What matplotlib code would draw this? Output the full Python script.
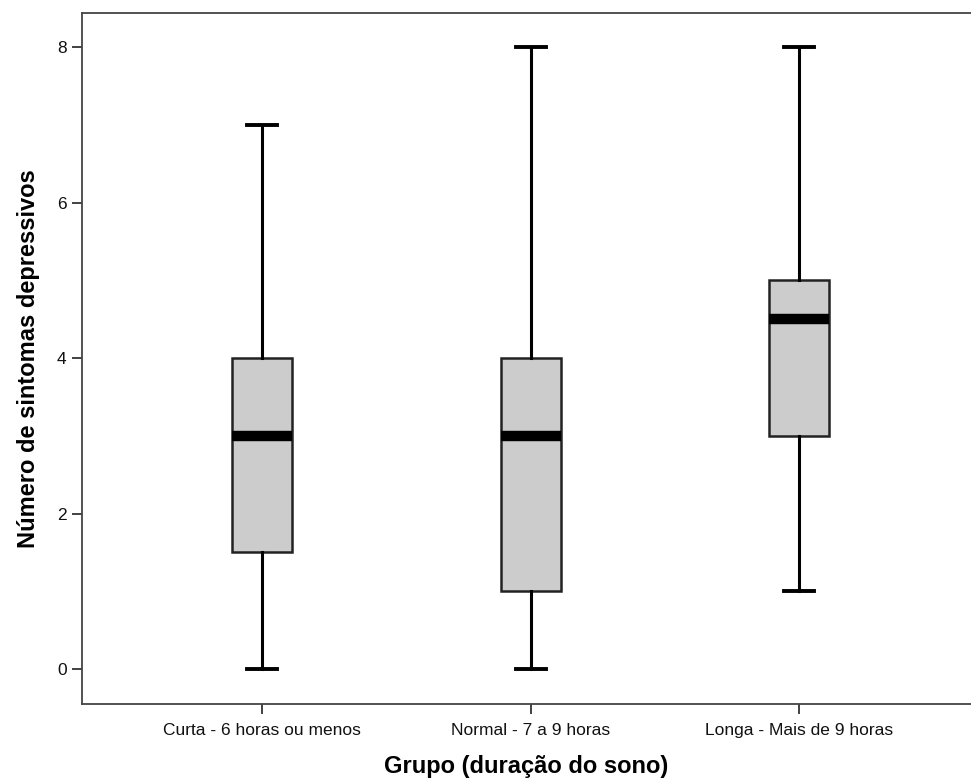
import matplotlib
matplotlib.use("Agg")
import matplotlib.pyplot as plt

categories = ["Curta - 6 horas ou menos", "Normal - 7 a 9 horas", "Longa - Mais de 9 horas"]
whisker_low = [0, 0, 1]
q1 = [1.5, 1, 3]
median = [3, 3, 4.5]
q3 = [4, 4, 5]
whisker_high = [7, 8, 8]
yticks = [0, 2, 4, 6, 8]

plt.rcParams['font.family'] = ['Liberation Sans', 'DejaVu Sans']

fig = plt.figure(figsize=(9.71, 7.81), dpi=100)
ax = fig.add_axes([82/971, 77/781, 1 - 82/971, (704-13)/781])

stats = []
for i, c in enumerate(categories):
    stats.append(dict(label=c, whislo=whisker_low[i], q1=q1[i], med=median[i],
                      q3=q3[i], whishi=whisker_high[i], fliers=[]))

ax.bxp(stats, positions=[1, 2, 3], widths=0.2235, capwidths=0.112,
       patch_artist=True, showfliers=False,
       boxprops=dict(facecolor='#cccccc', edgecolor='#222222', linewidth=1.8),
       medianprops=dict(color='black', linewidth=7.5, solid_capstyle='butt'),
       whiskerprops=dict(color='black', linewidth=2.2),
       capprops=dict(color='black', linewidth=2.8))

ax.set_xlim(0.3296, 3.64)
ax.set_ylim(-0.45, 8.44)
ax.set_yticks(yticks)
ax.set_yticklabels([str(t) for t in yticks])
ax.spines['right'].set_visible(False)
for s in ['left', 'bottom', 'top']:
    ax.spines[s].set_color('#444444')
    ax.spines[s].set_linewidth(1.3)
ax.tick_params(axis='both', direction='out', length=7, width=1.3, color='#333333',
               labelsize=12.5, labelcolor='#111111')
ax.tick_params(axis='x', pad=7)
ax.tick_params(axis='y', pad=4)
ax.set_ylabel("Número de sintomas depressivos", fontsize=17, fontweight='bold', labelpad=12)
ax.set_xlabel("Grupo (duração do sono)", fontsize=17, fontweight='bold', labelpad=12)

fig.savefig("out.png", dpi=100)
